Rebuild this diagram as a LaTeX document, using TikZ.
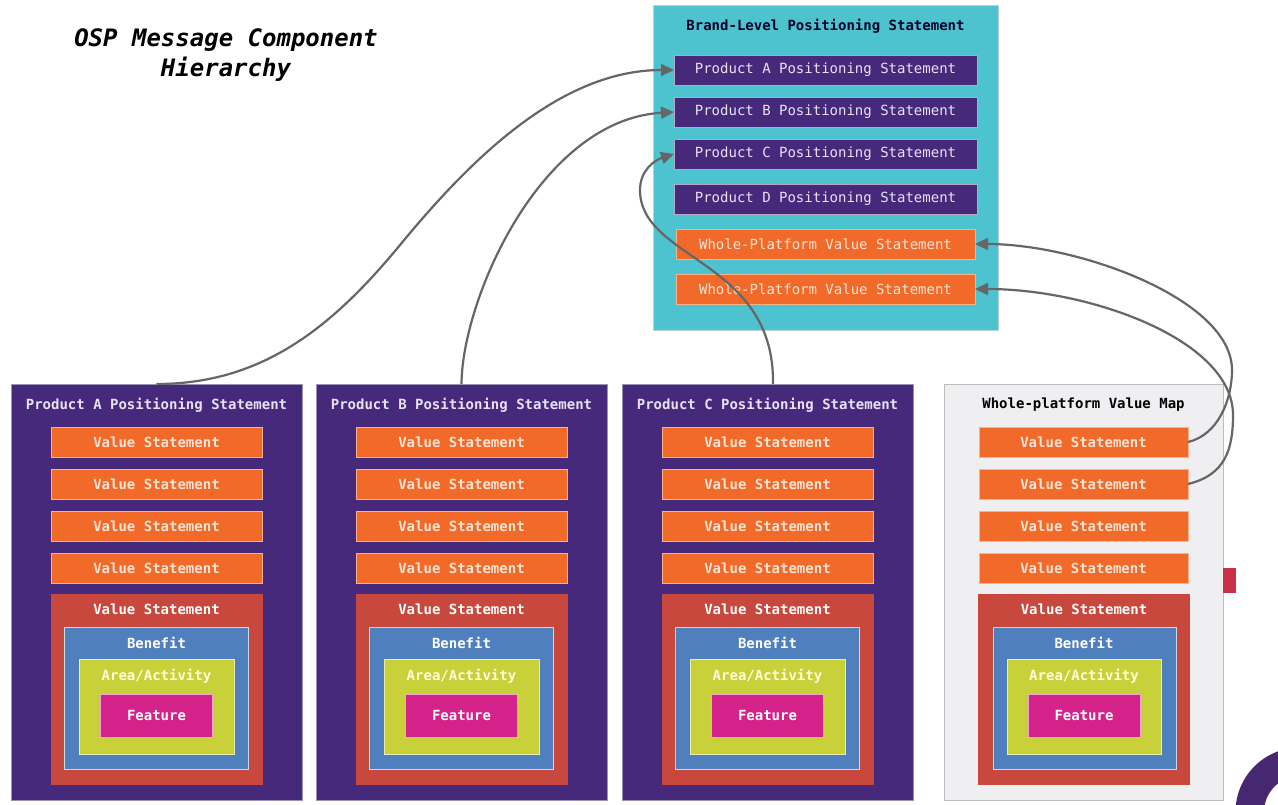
\documentclass[tikz,border=0pt]{standalone}
\usepackage{fontspec}
\newfontfamily\plex{DejaVu Sans Mono}[ItalicFont={DejaVu Sans Mono Oblique},BoldFont={DejaVu Sans Mono Bold},BoldItalicFont={DejaVu Sans Mono Bold Oblique}]
\usetikzlibrary{arrows.meta}
\definecolor{purp}{HTML}{46297A}
\definecolor{purpline}{HTML}{9C92B8}
\definecolor{orng}{HTML}{F26A2A}
\definecolor{orngline}{HTML}{F6B48E}
\definecolor{vsred}{HTML}{C9483D}
\definecolor{bnblue}{HTML}{4F80BD}
\definecolor{aryel}{HTML}{C8D03A}
\definecolor{ftmag}{HTML}{D4228A}
\definecolor{teal}{HTML}{4DC3D0}
\definecolor{tealline}{HTML}{B4D4DA}
\definecolor{wpmfill}{HTML}{EFEFF1}
\definecolor{wpmline}{HTML}{BDBDBD}
\definecolor{conncol}{HTML}{666666}
\definecolor{peach}{HTML}{FBE3D3}
\definecolor{lav}{HTML}{E8E2F6}
\definecolor{accent}{HTML}{C8304A}
\definecolor{ring}{HTML}{45286F}
\begin{document}
\begin{tikzpicture}[x=1pt,y=-1pt,
  rect/.style={line width=0.8pt, inner sep=0pt, outer sep=0pt},
  prodbox/.style={rect, fill=purp, draw=purpline, minimum width=291, minimum height=416},
  wpmbox/.style={rect, fill=wpmfill, draw=wpmline, minimum width=279, minimum height=416},
  vsbox/.style={rect, fill=orng, draw=orngline, minimum width=211, minimum height=30},
  redbox/.style={rect, fill=vsred, minimum width=212, minimum height=191},
  bluebox/.style={rect, fill=bnblue, draw=white!70!bnblue, minimum width=184, minimum height=142},
  yelbox/.style={rect, fill=aryel, draw=white!60!aryel, minimum width=155, minimum height=95},
  magbox/.style={rect, fill=ftmag, draw=white!60!ftmag, minimum width=112, minimum height=43},
  brandbox/.style={rect, fill=teal, draw=tealline, minimum width=345, minimum height=325},
  bpbox/.style={rect, fill=purp, draw=purpline!80!white, minimum width=303, minimum height=30},
  bobox/.style={rect, fill=orng, draw=orngline, minimum width=299, minimum height=30},
  lab/.style={inner sep=0pt, font=\plex\bfseries\fontsize{14}{16}\selectfont},
  labr/.style={inner sep=0pt, font=\plex\fontsize{14}{16}\selectfont},
  conn/.style={draw=conncol, line width=2.2pt, -{Triangle[length=13pt,width=12pt]}},
]
\useasboundingbox (0,0) rectangle (1278,804);
\fill[white] (0,0) rectangle (1278,804);

% title
\node[inner sep=0pt, align=center, font=\plex\bfseries\itshape\fontsize{24}{30}\selectfont] (title) at (226,55) {OSP Message Component\\Hierarchy};

% brand-level box
\node[brandbox] (brand) at (825.5,167.5) {};
\node[lab, text=black!85!blue] (brandlab) at (825.5,26) {Brand-Level Positioning Statement};
\node[bpbox] (bA) at (825.5,70) {};  \node[labr, text=lav] at (bA) {Product A Positioning Statement};
\node[bpbox] (bB) at (825.5,112) {}; \node[labr, text=lav] at (bB) {Product B Positioning Statement};
\node[bpbox] (bC) at (825.5,154) {}; \node[labr, text=lav] at (bC) {Product C Positioning Statement};
\node[bpbox] (bD) at (825.5,199) {}; \node[labr, text=lav] at (bD) {Product D Positioning Statement};
\node[bobox] (w1) at (825.5,244) {};  \node[labr, text=peach] at (w1) {Whole-Platform Value Statement};
\node[bobox] (w2) at (825.5,289) {};  \node[labr, text=peach] at (w2) {Whole-Platform Value Statement};

% product columns
\foreach \n/\cx in {A/156.5, B/461.5, C/767.5}{
  \node[prodbox] (p\n) at (\cx,592) {};
  \node[lab, text=lav] (p\n lab) at (\cx,405) {Product \n\ Positioning Statement};
  \node[vsbox] (v\n1) at (\cx,442) {};   \node[lab, text=peach] at (v\n1) {Value Statement};
  \node[vsbox] (v\n2) at (\cx,484) {};   \node[lab, text=peach] at (v\n2) {Value Statement};
  \node[vsbox] (v\n3) at (\cx,526.5) {}; \node[lab, text=peach] at (v\n3) {Value Statement};
  \node[vsbox] (v\n4) at (\cx,568.5) {}; \node[lab, text=peach] at (v\n4) {Value Statement};
  \node[redbox] (r\n) at (\cx,689.5) {};
  \node[lab, text=white] at (\cx,609) {Value Statement};
  \node[bluebox] (bl\n) at (\cx,698) {};
  \node[lab, text=white] at (\cx,643) {Benefit};
  \node[yelbox] (y\n) at (\cx,706.5) {};
  \node[lab, text=white!85!yellow] at (\cx,676) {Area/Activity};
  \node[magbox] (m\n) at (\cx,715.5) {};
  \node[lab, text=white] at (m\n) {Feature};
}

% whole-platform value map
\node[wpmbox] (pW) at (1083.5,592) {};
\node[lab, text=black] (pWlab) at (1083.5,405) {Whole-platform Value Map};
\node[vsbox, minimum width=209] (vW1) at (1083.5,442) {};   \node[lab, text=peach] at (vW1) {Value Statement};
\node[vsbox, minimum width=209] (vW2) at (1083.5,484) {};   \node[lab, text=peach] at (vW2) {Value Statement};
\node[vsbox, minimum width=209] (vW3) at (1083.5,526.5) {}; \node[lab, text=peach] at (vW3) {Value Statement};
\node[vsbox, minimum width=209] (vW4) at (1083.5,568.5) {}; \node[lab, text=peach] at (vW4) {Value Statement};
\node[redbox] (rW) at (1084,689.5) {};
\node[lab, text=white] at (1084,609) {Value Statement};
\node[bluebox, minimum width=183] (blW) at (1084.5,698) {};
\node[lab, text=white] at (1084,643) {Benefit};
\node[yelbox, minimum width=154] (yW) at (1084,706.5) {};
\node[lab, text=white!85!yellow] at (1084,676) {Area/Activity};
\node[magbox] (mW) at (1084,715.5) {};
\node[lab, text=white] at (mW) {Feature};

% decorations at right edge
\fill[accent] (1223,568) rectangle (1236,593);
\begin{scope}
  \clip (0,0) rectangle (1278,804);
  \fill[ring, even odd rule] (1300,812) circle (64.5pt) (1300,812) circle (36pt);
\end{scope}

% connectors
\draw[conn] (pA.north) .. controls (260,384) and (330,330) .. (400,245)
            .. controls (470,160) and (560,70) .. (bA.west);
\draw[conn] (pB.north) .. controls (462,300) and (540,120) .. (bB.west);
\draw[conn] ([xshift=5.5pt]pC.north) .. controls (775,260) and (640,260) .. (640,190)
            .. controls (640,170) and (655,160) .. (bC.west);
\draw[conn] (vW1.east) .. controls (1218,435) and (1232,400) .. (1232,370)
            .. controls (1232,300) and (1080,244) .. (w1.east);
\draw[conn] (vW2.east) .. controls (1225,475) and (1233,450) .. (1233,415)
            .. controls (1233,340) and (1090,289) .. (w2.east);
\end{tikzpicture}
\end{document}
